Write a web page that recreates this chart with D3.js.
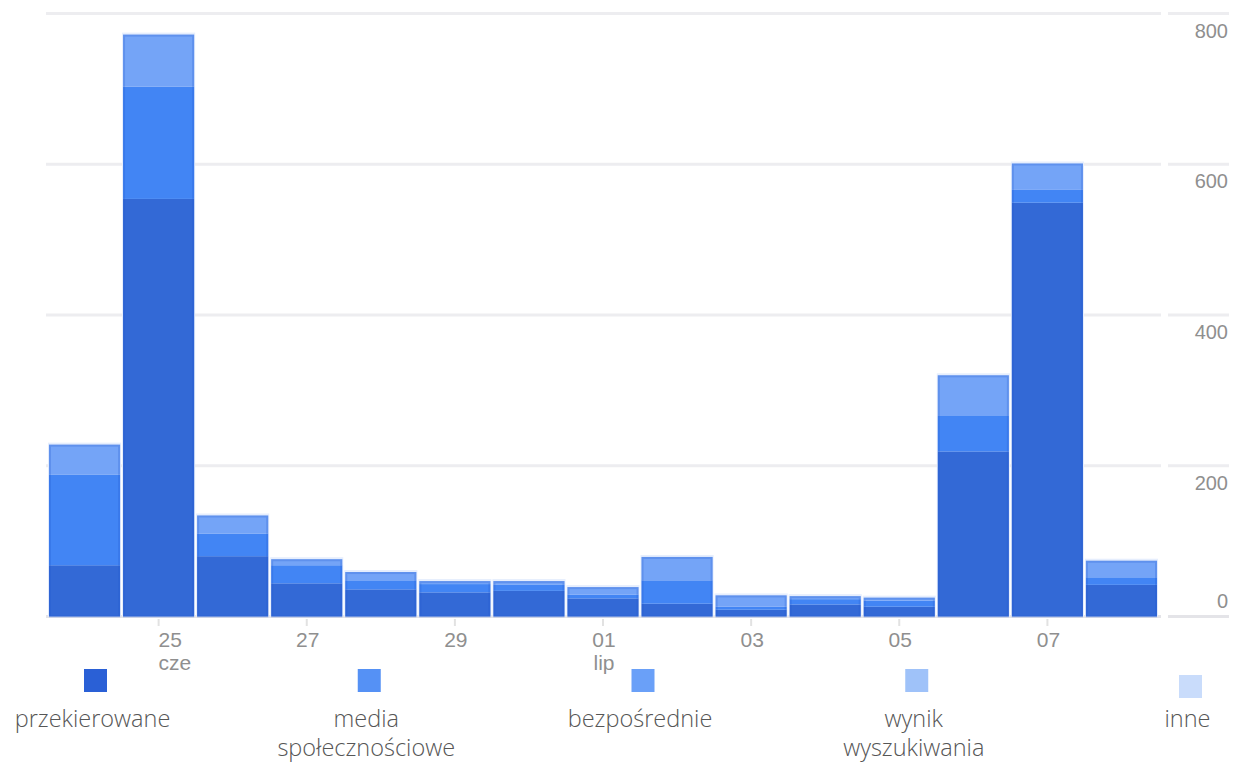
<!DOCTYPE html>
<html>
<head>
<meta charset="utf-8">
<script src="https://cdn.jsdelivr.net/npm/d3@7"></script>
<style>
  html, body { margin: 0; padding: 0; background: #ffffff; }
  svg { display: block; }
</style>
</head>
<body>
<svg id="chart" width="1233" height="762"></svg>
<script>
// ---- data ----
const days = ["24", "25", "26", "27", "28", "29", "30", "01", "02", "03", "04", "05", "06", "07", "08"];
const seriesNames = ["przekierowane", "media społecznościowe", "bezpośrednie", "wynik wyszukiwania", "inne"];
const przekierowane = [68, 554, 80, 44, 36, 32, 34, 24, 17, 9, 16, 13, 219, 549, 42];
const media = [120, 149, 30, 24, 12, 11, 8, 5, 31, 4, 7, 8, 47, 17, 10];
const bezposrednie = [40, 69, 24, 8, 11, 4, 5, 10, 31, 15, 4, 4, 54, 35, 22];
const wynik = [0, 0, 0, 0, 0, 0, 0, 0, 0, 0, 0, 0, 0, 0, 0];
const inne = [0, 0, 0, 0, 0, 0, 0, 0, 0, 0, 0, 0, 0, 0, 0];
const yTicks = [0, 200, 400, 600, 800];
const xTickDays = ["25", "27", "29", "01", "03", "05", "07"];
const xTickMonths = { "25": "cze", "01": "lip" };

// ---- styles ----
const barColors = ["#3369d6", "#4285f4", "#74a4f7", "#9fc2f9", "#c9dcfb"];
const legendColors = ["#2a60d6", "#5591f5", "#6aa0f8", "#9fc2f9", "#c9dcfb"];
const axisFont = "Arial, 'Liberation Sans', sans-serif";
const axisColor = "#8f8f8f";

const svg = d3.select("#chart");

const x = d3.scaleBand()
  .domain(days)
  .range([47.5, 1158.5])
  .paddingInner(0.04)
  .paddingOuter(0.02);

const y = d3.scaleLinear().domain([0, 800]).range([616.5, 13.5]);

// table for stacking
const table = days.map((d, i) => ({
  day: d,
  s0: przekierowane[i], s1: media[i], s2: bezposrednie[i], s3: wynik[i], s4: inne[i]
}));
const keys = ["s0", "s1", "s2", "s3", "s4"];
const stacked = d3.stack().keys(keys)(table);

// gridlines
const grid = svg.append("g");
yTicks.forEach(t => {
  const col = t === 0 ? "#e4e4e8" : "#ededf0";
  grid.append("line")
    .attr("x1", 46).attr("x2", 1161)
    .attr("y1", y(t)).attr("y2", y(t))
    .attr("stroke", col).attr("stroke-width", 3);
  grid.append("line")
    .attr("x1", 1168).attr("x2", 1229)
    .attr("y1", y(t)).attr("y2", y(t))
    .attr("stroke", col).attr("stroke-width", 3);
});

// y labels on the right
const yl = svg.append("g");
yTicks.forEach(t => {
  yl.append("text")
    .attr("x", 1228)
    .attr("y", t === 0 ? y(t) - 16 : y(t) + 17)
    .attr("dy", "0.35em")
    .attr("text-anchor", "end")
    .attr("font-family", axisFont)
    .attr("font-size", 20)
    .attr("fill", axisColor)
    .text(t);
});

// halo around each stacked bar
const totals = table.map((r, i) => przekierowane[i] + media[i] + bezposrednie[i] + wynik[i] + inne[i]);
svg.append("g").selectAll("rect")
  .data(table)
  .join("rect")
  .attr("x", d => x(d.day) - 1)
  .attr("width", x.bandwidth() + 2)
  .attr("y", (d, i) => y(totals[i]) - 2)
  .attr("height", (d, i) => y(0) - y(totals[i]) + 2)
  .attr("fill", "#e6eefd");

// bars
const layers = svg.append("g").selectAll("g")
  .data(stacked)
  .join("g")
  .attr("fill", (d, i) => barColors[i]);

layers.selectAll("rect")
  .data(d => d)
  .join("rect")
  .attr("x", d => x(d.data.day))
  .attr("width", x.bandwidth())
  .attr("y", d => y(d[1]))
  .attr("height", d => Math.max(0, y(d[0]) - y(d[1])));

// subtle darker side edges on bars
svg.append("g").selectAll("rect")
  .data(table)
  .join("rect")
  .attr("x", d => x(d.day) + 1)
  .attr("width", x.bandwidth() - 2)
  .attr("y", (d, i) => y(totals[i]) + 1)
  .attr("height", (d, i) => Math.max(0, y(0) - y(totals[i]) - 1))
  .attr("fill", "none")
  .attr("stroke", "#1f56d0")
  .attr("stroke-opacity", 0.25)
  .attr("stroke-width", 2);

// x ticks and labels
const xg = svg.append("g");
xTickDays.forEach(d => {
  const cx = x(d) + x.bandwidth() / 2;
  xg.append("line")
    .attr("x1", cx).attr("x2", cx)
    .attr("y1", 619).attr("y2", 626)
    .attr("stroke", "#e2e2e2").attr("stroke-width", 2);
  const first = d === "25";
  const tx = first ? cx : cx + 1;
  const anchor = first ? "start" : "middle";
  xg.append("text")
    .attr("x", tx).attr("y", 640)
    .attr("dy", "0.35em")
    .attr("text-anchor", anchor)
    .attr("font-family", axisFont)
    .attr("font-size", 21)
    .attr("fill", axisColor)
    .text(d);
  if (xTickMonths[d]) {
    xg.append("text")
      .attr("x", tx).attr("y", 663)
      .attr("dy", "0.35em")
      .attr("text-anchor", anchor)
      .attr("font-family", axisFont)
      .attr("font-size", 21)
      .attr("fill", axisColor)
      .text(xTickMonths[d]);
  }
});

// legend
const legendX = d3.scalePoint().domain(seriesNames).range([95.5, 1190.5]);
const lg = svg.append("g");
seriesNames.forEach((name, i) => {
  const cx = legendX(name);
  const sy = i === 4 ? 675 : 669;
  lg.append("rect")
    .attr("x", cx - 11.5).attr("y", sy)
    .attr("width", 23).attr("height", 23)
    .attr("fill", legendColors[i]);
  const words = name.split(" ");
  const t = lg.append("text")
    .attr("text-anchor", "middle")
    .attr("font-family", "'Open Sans', 'Noto Sans', sans-serif")
    .attr("font-size", 23.5)
    .attr("font-weight", 300)
    .attr("fill", "#565656");
  words.forEach((w, j) => {
    t.append("tspan")
      .attr("x", cx - 3)
      .attr("y", 727 + j * 29)
      .text(w);
  });
});
</script>
</body>
</html>
